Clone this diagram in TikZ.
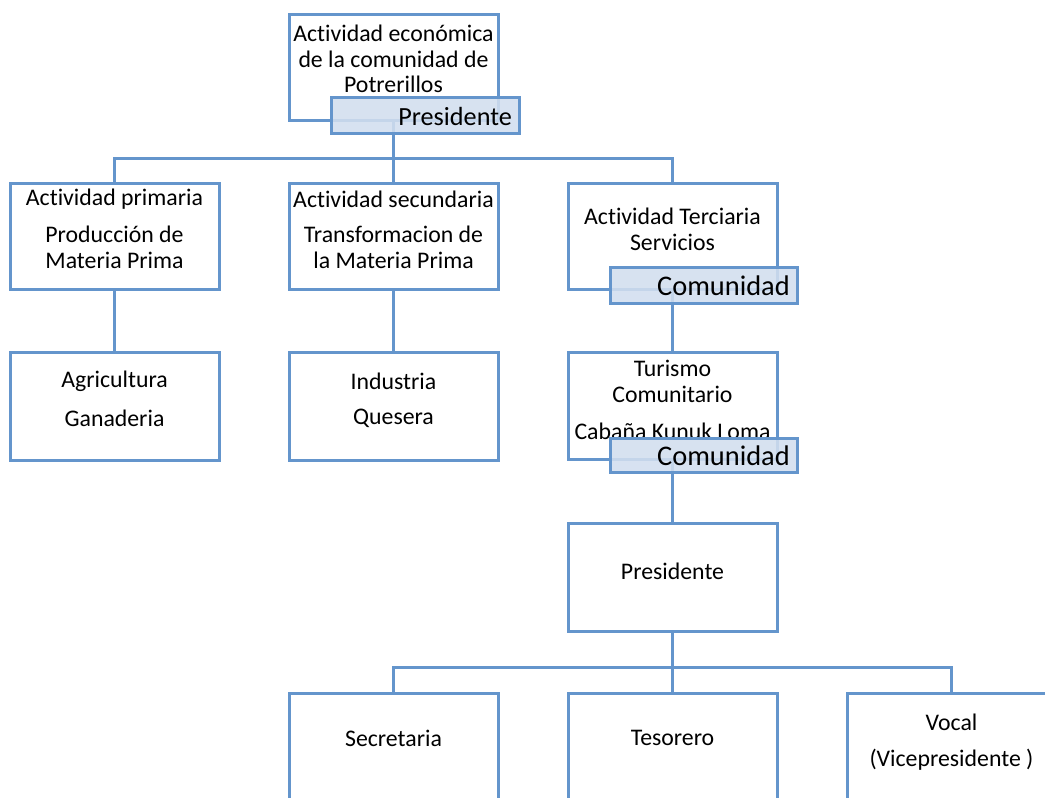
\documentclass[tikz,border=0pt]{standalone}
\usepackage{fontspec}
\setmainfont{Carlito}[Ligatures=NoCommon]
\begin{document}
\begin{tikzpicture}[x=1pt,y=-1pt,
  orgbox/.style={draw=orgblue,line width=3pt,fill=white,inner sep=0pt,outer sep=0pt,rectangle},
  tag/.style={draw=orgblue,line width=3pt,fill=tagfill,fill opacity=0.88,draw opacity=1,inner sep=0pt,outer sep=0pt,rectangle},
  link/.style={draw=orgblue,line width=3pt},
  txt/.style={font=\fontsize{23.8}{25.5}\selectfont,align=center,inner sep=0pt,text=black},
  tagtxt/.style={font=\fontsize{26.2}{28}\selectfont,anchor=east,inner sep=0pt,text=black,text opacity=1}]
\definecolor{orgblue}{RGB}{100,149,204}
\definecolor{tagfill}{RGB}{210,222,239}
\useasboundingbox (0,0) rectangle (1045,798);
\clip (0,0) rectangle (1045,798);

% bus coordinates
\coordinate (busA) at (393.5,158);
\coordinate (busAl) at (114.5,158);
\coordinate (busAr) at (672.5,158);
\coordinate (busB) at (672.5,667);
\coordinate (busBl) at (393.5,667);
\coordinate (busBr) at (951.5,667);

% boxes
\node[orgbox,minimum width=209pt,minimum height=106pt] (top) at (393.5,67) {};
\node[orgbox,minimum width=209pt,minimum height=106pt] (prim) at (114.5,236) {};
\node[orgbox,minimum width=209pt,minimum height=106pt] (sec) at (393.5,236) {};
\node[orgbox,minimum width=209pt,minimum height=106pt] (ter) at (672.5,236) {};
\node[orgbox,minimum width=209pt,minimum height=108pt] (agri) at (114.5,406.5) {};
\node[orgbox,minimum width=209pt,minimum height=108pt] (ind) at (393.5,406.5) {};
\node[orgbox,minimum width=209pt,minimum height=107pt] (tur) at (672.5,405.5) {};
\node[orgbox,minimum width=209pt,minimum height=108pt] (pres) at (672.5,577) {};
\node[orgbox,minimum width=209pt,minimum height=140pt] (secr) at (393.5,763) {};
\node[orgbox,minimum width=209pt,minimum height=140pt] (teso) at (672.5,763) {};
\node[orgbox,minimum width=209pt,minimum height=140pt] (voc) at (951.5,763) {};

% connector lines
\draw[link] (top.south -| busA) -- (busA);
\draw[link] (prim.north) |- (busAl) -- (busAr) -- (ter.north);
\draw[link] (busA) -- (sec.north);
\draw[link] (prim.south) -- (agri.north);
\draw[link] (sec.south) -- (ind.north);
\draw[link] (ter.south) -- (tur.north);
\draw[link] (tur.south) -- (pres.north);
\draw[link] (pres.south) -- (busB);
\draw[link] (secr.north) |- (busBl) -- (busBr) -- (voc.north);
\draw[link] (busB) -- (teso.north);

% text in the boxes
\node[txt] (ttop) at (393.5,59) {Actividad económica\\de la comunidad de\\Potrerillos};
\node[txt] (tprim1) at (114.5,199) {Actividad primaria};
\node[txt] (tprim2) at (114.5,247.5) {Producción de\\Materia Prima};
\node[txt] (tsec1) at (393.5,199) {Actividad secundaria};
\node[txt] (tsec2) at (393.5,247.5) {Transformacion de\\la Materia Prima};
\node[txt] (tter) at (672.5,229.5) {Actividad Terciaria\\Servicios};
\node[txt] (tagri1) at (114.5,381) {Agricultura};
\node[txt] (tagri2) at (114.5,418) {Ganaderia};
\node[txt] (tind1) at (393.5,381) {Industria};
\node[txt] (tind2) at (393.5,418) {Quesera};
\node[txt] (ttur1) at (672.5,381.5) {Turismo\\Comunitario};
\node[txt] (ttur2) at (672.5,431) {Cabaña Kunuk Loma};
\node[txt] (tpres) at (672.5,571) {Presidente};
\node[txt] (tsecr) at (393.5,738) {Secretaria};
\node[txt] (tteso) at (672.5,738) {Tesorero};
\node[txt] (tvoc1) at (951.5,722) {Vocal};
\node[txt] (tvoc2) at (951.5,760) {(Vicepresidente )};

% role tags over the boxes
\node[tag,minimum width=188pt,minimum height=36pt] (tagtop) at (425,115) {};
\node[tagtxt] (tagtopt) at (512,116) {Presidente};
\node[tag,minimum width=187pt,minimum height=36pt] (tagter) at (703.5,285) {};
\node[tagtxt,font=\fontsize{28.4}{30}\selectfont] (tagtert) at (790,286) {Comunidad};
\node[tag,minimum width=187pt,minimum height=34pt] (tagtur) at (703.5,455) {};
\node[tagtxt,font=\fontsize{28.4}{30}\selectfont] (tagturt) at (790,456) {Comunidad};
\end{tikzpicture}
\end{document}
